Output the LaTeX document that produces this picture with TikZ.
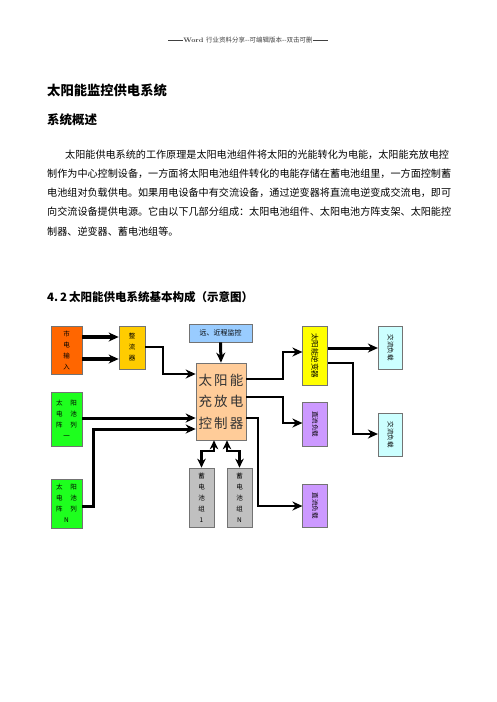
\documentclass[tikz,border=0pt]{standalone}
\usepackage{fontspec}
\newfontfamily\cjk{Noto Sans CJK SC}
\usetikzlibrary{arrows.meta}
\definecolor{mainsorange}{RGB}{255,102,0}
\definecolor{rectgold}{RGB}{255,204,0}
\definecolor{monblue}{RGB}{153,204,255}
\definecolor{ctrlpeach}{RGB}{255,204,153}
\definecolor{pvgreen}{RGB}{30,255,30}
\definecolor{batgray}{RGB}{192,192,192}
\definecolor{invyellow}{RGB}{255,255,0}
\definecolor{dcpurple}{RGB}{204,153,255}
\definecolor{accyan}{RGB}{204,255,255}
\newcommand{\bodyfont}{\cjk\fontsize{10.1}{12}\selectfont}
\newcommand{\headfont}[1]{\cjk\bfseries\fontsize{#1}{#1}\selectfont}

\begin{document}
\begin{tikzpicture}[x=1pt,y=-1pt,
  blk/.style={draw=black!55,line width=0.7pt,inner sep=0pt,align=center,
    font=\cjk\fontsize{6.5}{11}\selectfont},
  feed/.style={line width=3pt,-{Stealth[length=10pt,width=9pt]}},
  duplex/.style={line width=2.8pt,{Stealth[length=9pt,width=8.5pt]}-{Stealth[length=9pt,width=8.5pt]}},
  line/.style={anchor=west,inner sep=0pt,font=\bodyfont}]
\useasboundingbox (0,0) rectangle (496,702);
% page text
\node[font=\fontsize{6.5}{8}\selectfont,text=black!75] (header) at (248,40)
  {\rule[1.8pt]{15pt}{0.6pt}\textbf{Word} {\cjk 行业资料分享--可编辑版本--双击可删}\rule[1.8pt]{15pt}{0.6pt}};
\node[anchor=west,inner sep=0pt,font=\headfont{13.3}] (title) at (47,90) {太阳能监控供电系统};
\node[anchor=west,inner sep=0pt,font=\headfont{12.5}] (overview) at (47,120) {系统概述};
\node[line] (l1) at (65,155) {太阳能供电系统的工作原理是太阳电池组件将太阳的光能转化为电能，太阳能充放电控};
\node[line] (l2) at (47,174) {制作为中心控制设备，一方面将太阳电池组件转化的电能存储在蓄电池组里，一方面控制蓄};
\node[line] (l3) at (47,193) {电池组对负载供电。如果用电设备中有交流设备，通过逆变器将直流电逆变成交流电，即可};
\node[line] (l4) at (47,212) {向交流设备提供电源。它由以下几部分组成：太阳电池组件、太阳电池方阵支架、太阳能控};
\node[line] (l5) at (47,232) {制器、逆变器、蓄电池组等。};
\node[anchor=west,inner sep=0pt,font=\headfont{11.5}] (figtitle) at (47,297) {4.\,2\,太阳能供电系统基本构成（示意图）};
% boxes: name/x/y/width/height/colour/text
\foreach \n/\x/\y/\w/\h/\c/\txt in {
mains/66.5/350/31/48/mainsorange/{市\\电\\输\\入},
rect/132/347.5/26/43/rectgold/{整\\流\\器},
pvone/66.5/419/31/54/pvgreen/{太\hspace{8pt}阳\\电\hspace{8pt}池\\阵\hspace{8pt}列\\一},
pvN/66.5/503.5/31/49/pvgreen/{太\hspace{8pt}阳\\电\hspace{8pt}池\\阵\hspace{8pt}列\\N},
batone/201.5/497.5/25/59/batgray/{蓄\\电\\池\\组\\1},
batN/239.5/497.5/25/59/batgray/{蓄\\电\\池\\组\\N}}{
\node[blk,fill=\c,minimum width=\w pt,minimum height=\h pt] (\n) at (\x,\y) {\txt};
}
\node[blk,fill=monblue,minimum width=63pt,minimum height=18pt,font=\cjk\fontsize{7}{8}\selectfont] (mon) at (220.5,333) {远、近程监控};
\node[blk,fill=ctrlpeach,minimum width=50pt,minimum height=77pt,text=black!80,
  font=\cjk\fontsize{13.5}{21.5}\selectfont] (ctrl) at (221,401.5)
  {太\,阳\,能\\充\,放\,电\\控\,制\,器};
% upright boxes with turned text
\foreach \n/\x/\y/\h/\c/\txt/\s in {
inv/315/355.5/59/invyellow/太阳能逆变器/7.5,
dcone/315/424/44/dcpurple/直流负载/6.5,
dctwo/315/505.5/43/dcpurple/直流负载/6.5,
acone/390.5/347.5/43/accyan/交流负载/6.5,
actwo/390.5/434.5/43/accyan/交流负载/6.5}{
\node[blk,fill=\c,minimum width=24.5pt,minimum height=\h pt,font=\cjk\fontsize{\s}{\s}\selectfont] (\n) at (\x,\y) {\rotatebox{-90}{\txt}};
}
% connectors
\draw[feed,line width=3.8pt] (mains.east |- 0,337) -- (rect.west |- 0,337);
\draw[feed,line width=3.8pt] (mains.east |- 0,359) -- (rect.west |- 0,359);
\draw[feed,line width=2pt] (rect.east |- 0,347) -| (163,374) -- (ctrl.west |- 0,374);
\draw[feed] (mon.south) -- (ctrl.north);
\draw[feed] (pvone.east |- 0,418) -- (ctrl.west |- 0,418);
\draw[feed] (pvN.east |- 0,506) -| (93,429) -- (ctrl.west |- 0,429);
\draw[duplex] (batone.north) |- (214,451) -- (214,0 |- ctrl.south);
\draw[duplex] (227,0 |- ctrl.south) |- (239.5,451) -- (batN.north);
\draw[feed,line width=2.6pt] (ctrl.east |- 0,379) -| (283,352) -- (inv.west |- 0,352);
\draw[feed,line width=2.6pt] (ctrl.east |- 0,397) -| (283,423) -- (dcone.west |- 0,423);
\draw[feed,line width=2.6pt] (ctrl.east |- 0,418) -| (258,506) -- (dctwo.west |- 0,506);
\draw[feed] (inv.east |- 0,348) -- (acone.west |- 0,348);
\draw[feed,line width=2.6pt] (inv.east |- 0,363) -| (353,434) -- (actwo.west |- 0,434);
\end{tikzpicture}
\end{document}
